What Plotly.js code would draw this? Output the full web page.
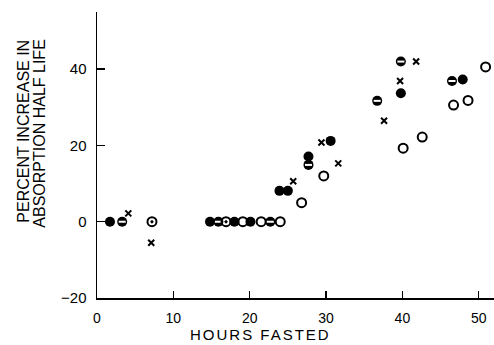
<!DOCTYPE html>
<html>
<head>
<meta charset="utf-8">
<script src="https://cdn.plot.ly/plotly-3.0.1.min.js"></script>
<style>
html,body{margin:0;padding:0;background:#fff;}
#chart{width:494px;height:345px;}
</style>
</head>
<body>
<div id="chart"></div>
<script>
// Data (hours fasted vs percent increase in absorption half life)
var filledHours = [1.7, 14.8, 18.0, 20.1, 23.9, 25.0, 27.7, 30.6, 39.8, 47.9];
var filledPct   = [0, 0, 0, 0, 8.1, 8.1, 17.1, 21.2, 33.7, 37.3];

var halfHours = [3.3, 15.9, 22.7, 27.7, 36.7, 39.8, 46.5];
var halfPct   = [0, 0, 0, 14.9, 31.7, 42.0, 36.9];

var dotHours = [7.2, 16.9];
var dotPct   = [0, 0];

var openHours = [19.1, 21.5, 24.0, 26.8, 29.7, 40.1, 42.6, 46.7, 48.6, 50.9];
var openPct   = [0, 0, 0, 5.0, 12.0, 19.3, 22.2, 30.6, 31.8, 40.6];

var crossHours = [4.1, 7.1, 25.7, 29.4, 31.6, 37.6, 39.7, 41.8];
var crossPct   = [2.2, -5.5, 10.6, 20.8, 15.3, 26.5, 36.9, 42.0];

var xTicks = [0, 10, 20, 30, 40, 50];
var yTicks = [-20, 0, 20, 40];

var traces = [
  {x: openHours, y: openPct, mode: 'markers', type: 'scatter',
   marker: {symbol: 'circle-open', size: 9, color: '#000', line: {width: 2, color: '#000'}}},
  {x: filledHours, y: filledPct, mode: 'markers', type: 'scatter',
   marker: {symbol: 'circle', size: 10, color: '#000'}},
  {x: halfHours, y: halfPct, mode: 'markers', type: 'scatter',
   marker: {symbol: 'circle', size: 10, color: '#000'}},
  {x: halfHours, y: halfPct, mode: 'markers', type: 'scatter',
   marker: {symbol: 'line-ew-open', size: 5, color: '#fff', line: {width: 2, color: '#fff'}}},
  {x: dotHours, y: dotPct, mode: 'markers', type: 'scatter',
   marker: {symbol: 'circle-open-dot', size: 9, color: '#000', line: {width: 2, color: '#000'}}},
  {x: crossHours, y: crossPct, mode: 'markers', type: 'scatter',
   marker: {symbol: 'x-thin-open', size: 6, color: '#000', line: {width: 2, color: '#000'}}}
];

var fontFam = 'Liberation Sans, Arial, sans-serif';

var layout = {
  width: 494, height: 345,
  margin: {l: 97, r: 0, t: 12, b: 47, pad: 0},
  paper_bgcolor: '#fff', plot_bgcolor: '#fff',
  showlegend: false,
  font: {family: fontFam, color: '#000', size: 14},
  xaxis: {
    range: [0, 52], tickvals: xTicks, ticktext: xTicks.map(String),
    ticks: 'inside', ticklen: 7, tickwidth: 1.5, tickcolor: '#000',
    showline: true, linecolor: '#000', linewidth: 1.5,
    showgrid: false, zeroline: false,
    ticklabelstandoff: 7,
    tickfont: {family: fontFam, size: 14, color: '#000'}
  },
  yaxis: {
    range: [-20, 55], tickvals: yTicks, ticktext: ['\u221220', '0', '20', '40'],
    ticks: 'inside', ticklen: 8, tickwidth: 1.5, tickcolor: '#000',
    showline: true, linecolor: '#000', linewidth: 1.5,
    showgrid: false, zeroline: false,
    ticklabelstandoff: 6,
    tickfont: {family: fontFam, size: 15, color: '#000'}
  },
  annotations: [
    {text: 'HOURS FASTED', xref: 'paper', yref: 'paper', x: 0.413, y: -0.129,
     xanchor: 'center', yanchor: 'middle', showarrow: false,
     font: {family: fontFam, size: 15, color: '#000'}},
    {text: 'PERCENT INCREASE IN', xref: 'paper', yref: 'paper', x: -0.186, y: 0.909,
     xanchor: 'center', yanchor: 'top', textangle: -90, showarrow: false,
     font: {family: fontFam, size: 16, color: '#000'}},
    {text: 'ABSORPTION HALF LIFE', xref: 'paper', yref: 'paper', x: -0.147, y: 0.909,
     xanchor: 'center', yanchor: 'top', textangle: -90, showarrow: false,
     font: {family: fontFam, size: 16, color: '#000'}}
  ]
};

Plotly.newPlot('chart', traces, layout, {staticPlot: true, displayModeBar: false}).then(function(){
  var anns = document.querySelectorAll('.annotation-text');
  if (anns.length) { anns[0].style.letterSpacing = '2px'; }
});
</script>
</body>
</html>
